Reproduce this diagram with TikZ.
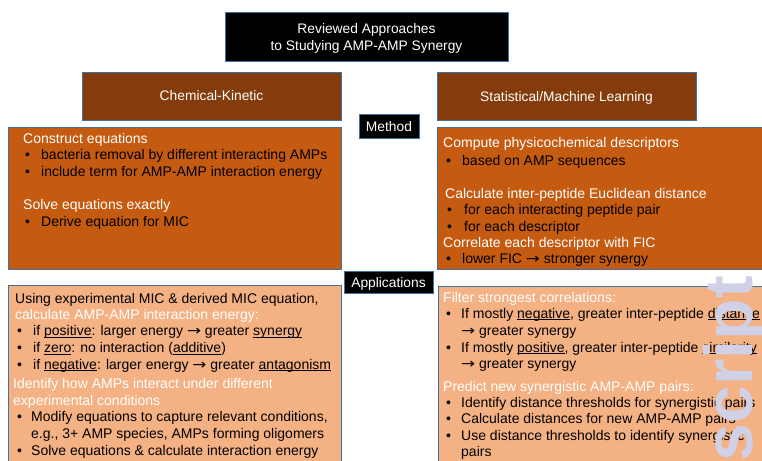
\documentclass[tikz,border=0pt]{standalone}
\usepackage{fontspec}
\setmainfont{Liberation Sans}
\newfontfamily\symfont{DejaVu Sans}

\definecolor{edge}{HTML}{41719C}
\definecolor{ink}{HTML}{000000}
\definecolor{brownhdr}{HTML}{843C0C}
\definecolor{rust}{HTML}{C55A11}
\definecolor{peach}{HTML}{F4B183}
\definecolor{wmark}{RGB}{208,208,230}

% body text size and line pitch
\newcommand\fs{\fontsize{14}{16.5}\selectfont}
\newcommand\hfs{\fontsize{13.8}{16.5}\selectfont}
% underline drawn through the descenders, as in slide software
\newcommand\ulx[1]{\setbox0\hbox{#1}\rlap{\rule[-1.8pt]{\wd0}{0.8pt}}#1}
% bullet with a hanging gap of the given width (pt)
\newcommand\bul[1]{\makebox[#1pt][l]{•}}
% wide arrow glyph
\newcommand\rar{\scalebox{1.2}[1]{\symfont →}}

\tikzset{
  panel/.style={draw=edge, line width=0.9pt, inner sep=0pt, anchor=north west},
  tx/.style={anchor=base west, inner sep=0pt, font=\fs, text=black},
  wtx/.style={tx, text=white},
  ctr/.style={anchor=base, inner sep=0pt, font=\hfs, text=white},
}

\begin{document}
\begin{tikzpicture}[x=1pt, y=-1pt]
\useasboundingbox (0,0) rectangle (762,460);
\clip (0,0) rectangle (762,460);

% ---- panels ----
\node[panel, fill=ink, minimum width=283pt, minimum height=48pt] (title) at (225,12.5) {};
\node[panel, fill=brownhdr, minimum width=259pt, minimum height=47.5pt] (chem) at (82,72) {};
\node[panel, fill=brownhdr, minimum width=259pt, minimum height=48pt] (stat) at (437,72) {};
\node[panel, fill=rust, minimum width=333pt, minimum height=142.5pt] (cmeth) at (8,126.5) {};
\node[panel, fill=rust, minimum width=340pt, minimum height=142.5pt] (smeth) at (437,126.5) {};
\node[panel, fill=ink, minimum width=60pt, minimum height=24pt] (method) at (359,114) {};
\node[panel, fill=ink, minimum width=89pt, minimum height=22pt] (apps) at (344,271) {};
\node[panel, fill=peach, minimum width=333pt, minimum height=190pt] (capp) at (8,285) {};
\node[panel, fill=peach, minimum width=340pt, minimum height=190pt] (sapp) at (438,285.5) {};

% ---- headings ----
\node[ctr] (t1) at (366.5,33.5) {Reviewed Approaches};
\node[ctr] (t2) at (366.5,50) {to Studying AMP-AMP Synergy};
\node[ctr] (h1) at (211.5,100.5) {Chemical-Kinetic};
\node[ctr] (h2) at (566.5,101) {Statistical/Machine Learning};
\node[ctr] (m1) at (389,131) {Method};
\node[ctr] (p1) at (388.5,287) {Applications};

% ---- chemical-kinetic method ----
\node[wtx] (a1) at (23,143.5) {Construct equations};
\node[tx] (a2) at (25,159.5) {\bul{16}bacteria removal by different interacting AMPs};
\node[tx] (a3) at (25,176) {\bul{16}include term for AMP-AMP interaction energy};
\node[wtx] (a4) at (23,209.5) {Solve equations exactly};
\node[tx] (a5) at (25,226) {\bul{16}Derive equation for MIC};

% ---- statistical method ----
\node[wtx] (b1) at (443,147.7) {Compute physicochemical descriptors};
\node[tx] (b2) at (446,165) {\bul{16}based on AMP sequences};
\node[wtx] (b3) at (445,198.3) {Calculate inter-peptide Euclidean distance};
\node[tx] (b4) at (447,214) {\bul{17}for each interacting peptide pair};
\node[tx] (b5) at (447,231) {\bul{17}for each descriptor};
\node[wtx] (b6) at (443,247.7) {Correlate each descriptor with FIC};
\node[tx] (b7) at (446,263.3) {\bul{16}lower FIC \rar{} stronger synergy};

% ---- chemical-kinetic applications ----
\node[tx] (c1) at (15,303.3) {Using experimental MIC \& derived MIC equation,};
\node[wtx] (c2) at (15,319.3) {calculate AMP-AMP interaction energy:};
\node[tx] (c3) at (17,335.7) {\bul{16}if \ulx{positive}: larger energy \rar{} greater \ulx{synergy}};
\node[tx] (c4) at (17,352.7) {\bul{16}if \ulx{zero}: no interaction (\ulx{additive})};
\node[tx] (c5) at (17,369) {\bul{16}if \ulx{negative}: larger energy \rar{} greater \ulx{antagonism}};
\node[wtx] (c6) at (13,388.7) {Identify how AMPs interact under different};
\node[wtx] (c7) at (13,405.3) {experimental conditions};
\node[tx] (c8) at (17,421.7) {\bul{14}Modify equations to capture relevant conditions,};
\node[tx] (c9) at (31,438.3) {e.g., 3+ AMP species, AMPs forming oligomers};
\node[tx] (c10) at (17,455.7) {\bul{14}Solve equations \& calculate interaction energy};

% ---- statistical applications ----
\node[wtx] (d1) at (443,302.7) {Filter strongest correlations:};
\node[tx] (d2) at (446,318.3) {\bul{15}If mostly \ulx{negative}, greater inter-peptide \ulx{distance}};
\node[tx] (d3) at (461,335) {\rar{} greater synergy};
\node[tx] (d4) at (446,352) {\bul{15}If mostly \ulx{positive}, greater inter-peptide \ulx{similarity}};
\node[tx] (d5) at (461,368.7) {\rar{} greater synergy};
\node[wtx] (d6) at (443,391.3) {Predict new synergistic AMP-AMP pairs:};
\node[tx] (d7) at (446,407.3) {\bul{15}Identify distance thresholds for synergistic pairs};
\node[tx] (d8) at (446,423.3) {\bul{15}Calculate distances for new AMP-AMP pairs};
\node[tx] (d9) at (446,440.7) {\bul{15}Use distance thresholds to identify synergistic};
\node[tx] (d10) at (461,456) {pairs};

% ---- stamp along the right edge ----
\node[rotate=90, anchor=base east, inner sep=0pt, text=wmark,
      font=\fontsize{68}{68}\selectfont\bfseries] (stamp) at (752,276) {script};
\end{tikzpicture}
\end{document}
